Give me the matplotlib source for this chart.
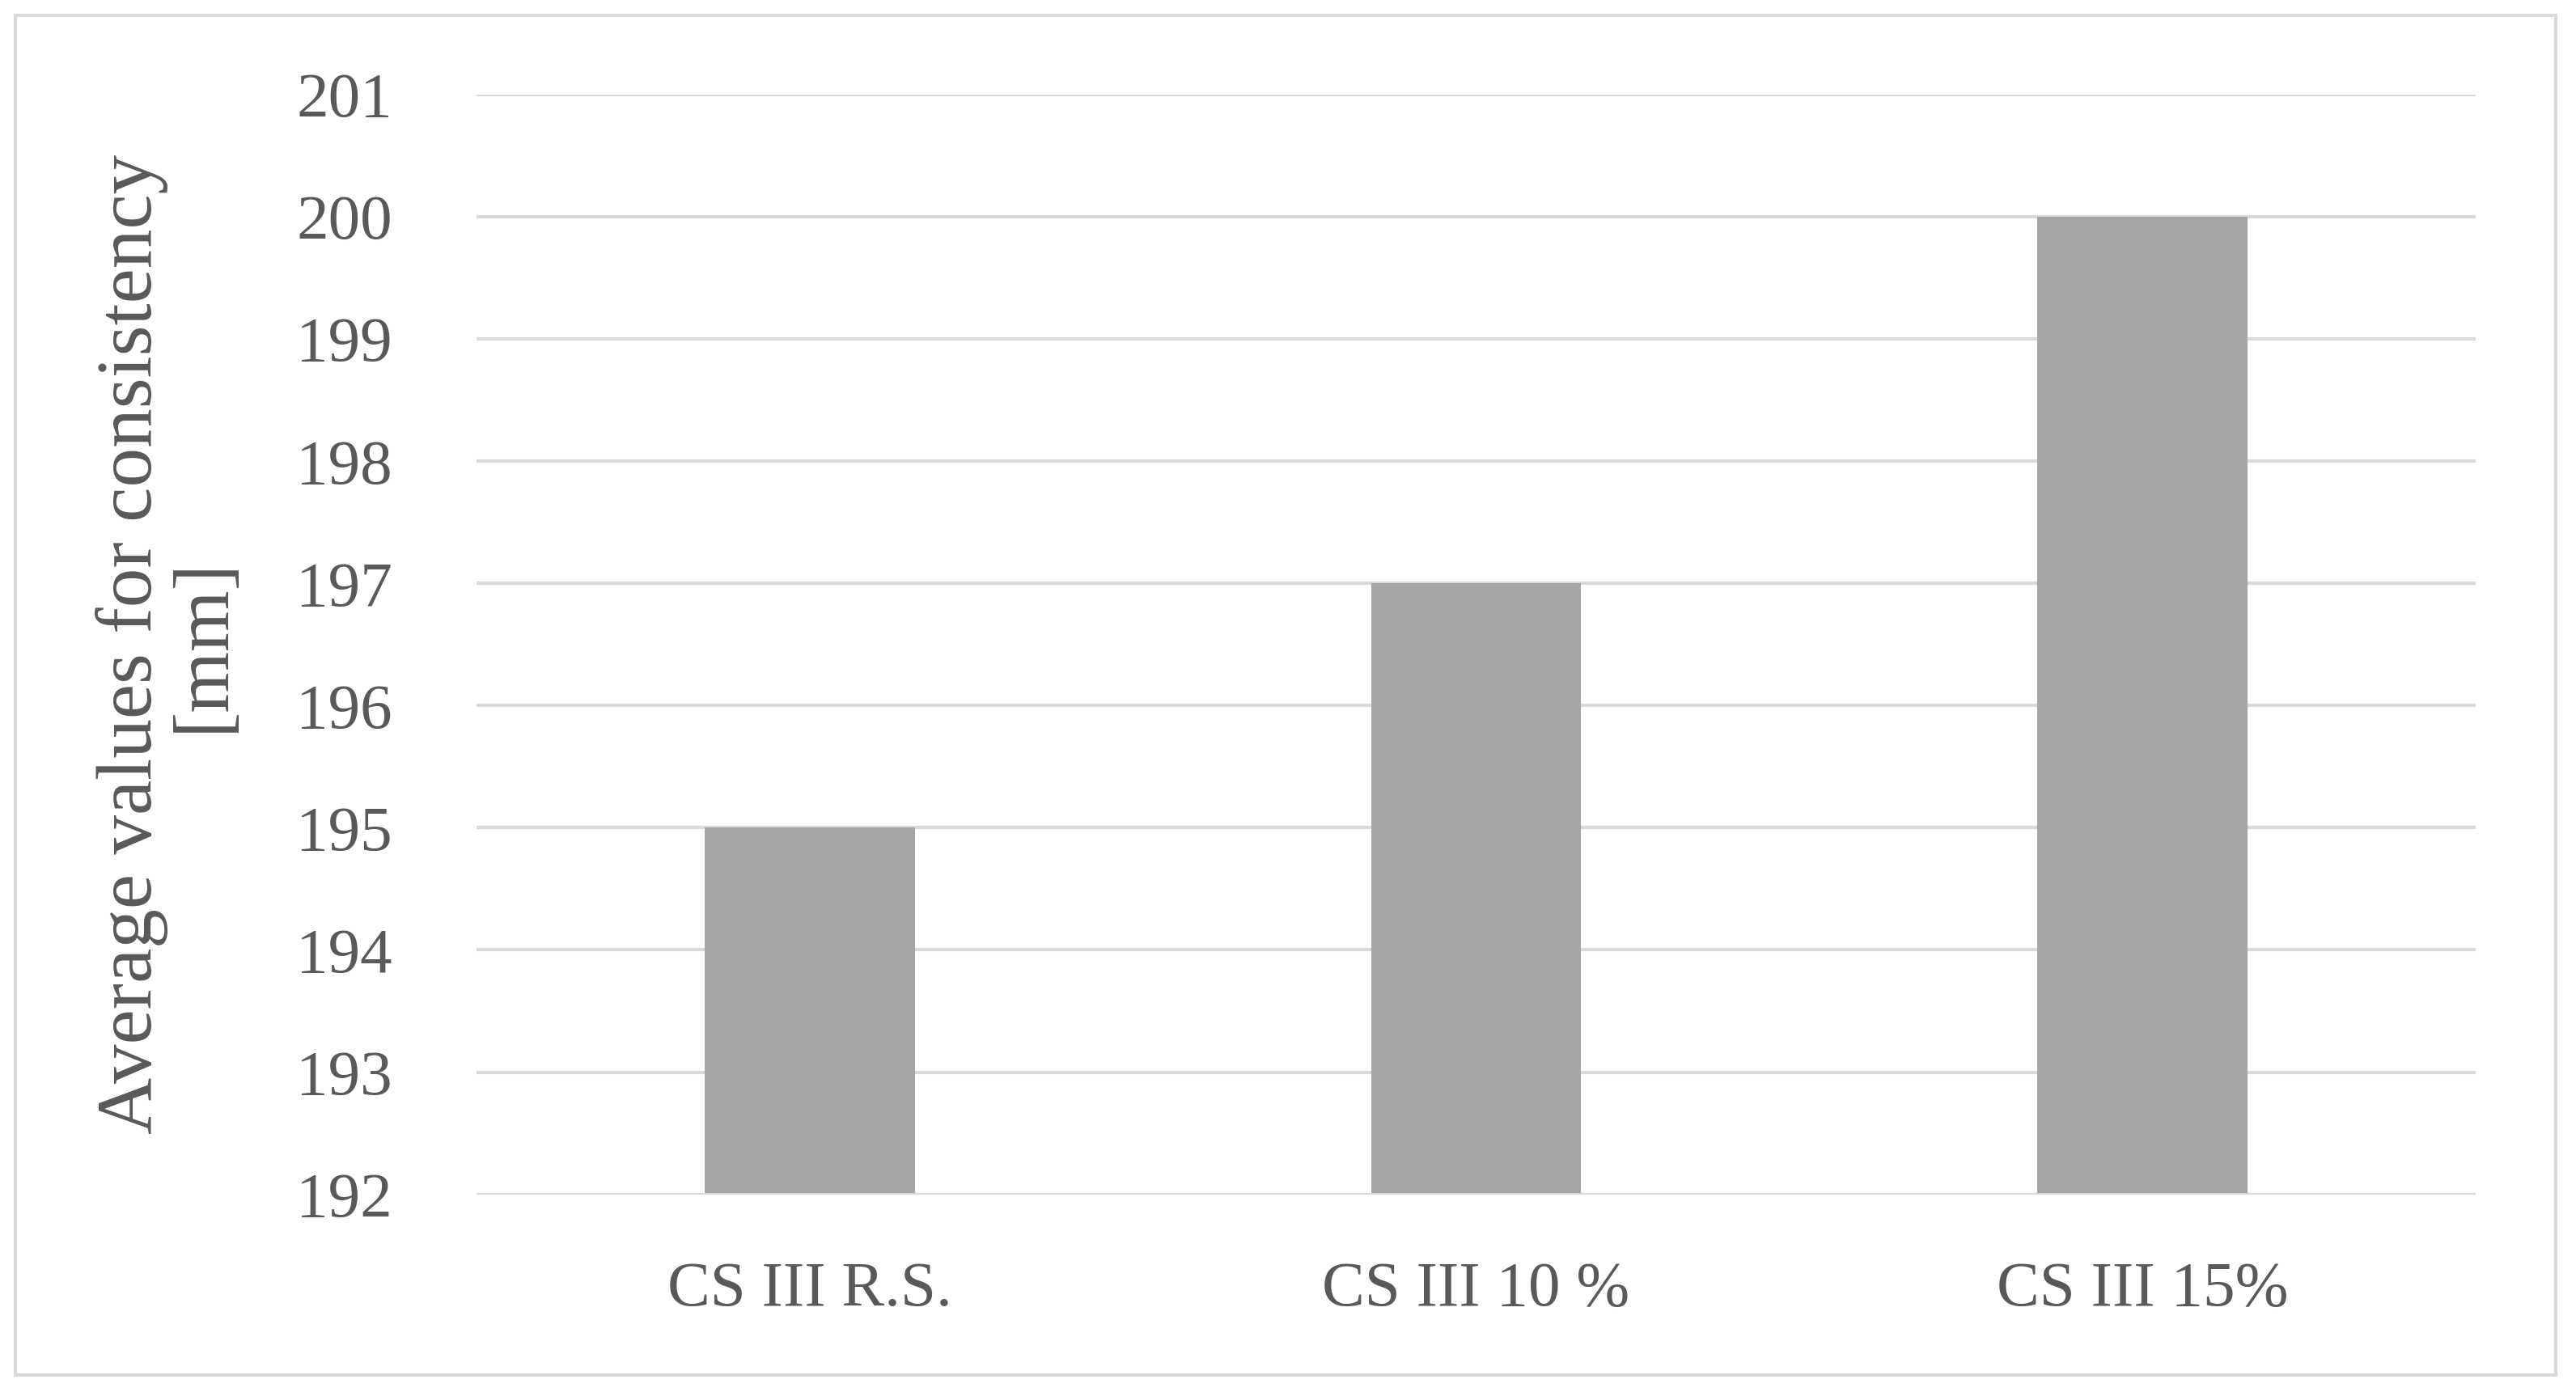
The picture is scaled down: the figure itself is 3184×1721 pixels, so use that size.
import matplotlib.pyplot as plt
from matplotlib.patches import Rectangle

categories = ['CS III R.S.', 'CS III 10 %', 'CS III 15%']
values = [195, 197, 200]
y_ticks = list(range(192, 202))

plt.rcParams['font.family'] = ['Liberation Serif', 'DejaVu Serif']

fig = plt.figure(figsize=(31.84, 17.21), dpi=100)
ax = fig.add_axes([0.185, 0.142, 0.776, 0.79])

ax.bar(range(len(categories)), values, width=0.315, color='#a5a5a5', zorder=3)
ax.set_ylim(192, 201)
ax.set_xlim(-0.5, len(categories) - 0.5)
ax.set_yticks(y_ticks)
ax.set_xticks(range(len(categories)))
ax.set_xticklabels(categories)
ax.tick_params(axis='both', length=0, labelsize=57, colors='#595959')
ax.tick_params(axis='x', pad=60)
ax.tick_params(axis='y', pad=75)
ax.yaxis.grid(True, color='#d9d9d9', linewidth=3, zorder=0)
for s in ax.spines.values():
    s.set_visible(False)
ax.axhline(192, color='#d9d9d9', linewidth=3, zorder=4)
ax.set_ylabel('Average values for consistency\n[mm]', fontsize=70, color='#595959', labelpad=50, linespacing=1.0)

fig.patches.append(Rectangle((0.006, 0.012), 0.986, 0.977, transform=fig.transFigure,
                             fill=False, edgecolor='#d9d9d9', linewidth=3))

fig.savefig('out.png', dpi=100)
